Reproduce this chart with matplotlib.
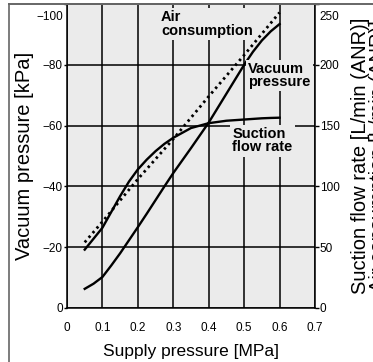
import matplotlib
matplotlib.use("Agg")
import matplotlib.pyplot as plt
from matplotlib.lines import Line2D
from matplotlib.transforms import ScaledTranslation

plt.rcParams["font.family"] = ["Liberation Sans", "DejaVu Sans"]

# supply pressure [MPa]
supply = [0.05, 0.075, 0.1, 0.125, 0.15, 0.175, 0.2, 0.225, 0.25, 0.275, 0.3,
          0.35, 0.4, 0.45, 0.5, 0.525, 0.55, 0.575, 0.6]
# vacuum pressure [kPa]
vacuum = [-6.3, -8, -10.2, -14, -18, -22.3, -26.6, -31, -35.5, -40, -44.4,
          -52.6, -61, -70.5, -80, -84.3, -88, -91, -93.4]
# suction flow rate [L/min (ANR)]
suction_flow = [48, 57, 66, 79, 92, 104, 114, 122, 129, 135, 140,
                148, 152, 154, 155, 155.5, 156, 156.3, 156.5]
# air consumption [L/min (ANR)]
air_supply = [0.05, 0.1, 0.2, 0.3, 0.4, 0.5, 0.6]
air_consumption = [54, 71, 106, 139, 174, 208, 243]

x_ticks = [0, 0.1, 0.2, 0.3, 0.4, 0.5, 0.6, 0.7]
x_labels = ["0", "0.1", "0.2", "0.3", "0.4", "0.5", "0.6", "0.7"]
vac_ticks = [0, -20, -40, -60, -80, -100]
vac_labels = ["0", "\u221220", "\u221240", "\u221260", "\u221280", "\u2212100"]
flow_ticks = [0, 50, 100, 150, 200, 250]
flow_labels = ["0", "50", "100", "150", "200", "250"]

BG = "#ebebeb"
TICK_FONT = ["Liberation Sans Narrow", "Liberation Sans", "DejaVu Sans"]

fig = plt.figure(figsize=(3.73, 3.62), dpi=100)
ax = fig.add_axes([67 / 373, 54 / 362, 248 / 373, 304 / 362])
ax.set_facecolor(BG)

ax.set_xlim(0, 0.7)
ax.set_ylim(0, -100)
ax.set_xticks(x_ticks)
ax.set_xticklabels(x_labels, family=TICK_FONT, fontsize=8.5)
ax.set_yticks(vac_ticks)
ax.set_yticklabels(vac_labels, family=TICK_FONT, fontsize=8.5)
ax.tick_params(axis="x", length=0, pad=10)
ax.tick_params(axis="y", length=2.5, width=1, pad=0.5)
ax.grid(True, color="black", linewidth=1.1)
ax.set_axisbelow(True)
for side in ["left", "bottom", "right"]:
    ax.spines[side].set_linewidth(1.1)
ax.spines["top"].set_color("#555555")
ax.spines["top"].set_linewidth(1.4)

ax.plot(supply, vacuum, color="black", linewidth=1.7, solid_joinstyle="round")

ax.set_xlabel("Supply pressure [MPa]", fontsize=12.5, labelpad=7)
ax.set_ylabel("Vacuum pressure [kPa]", fontsize=14.5)
ax.yaxis.set_label_coords(-0.135, 0.5)

ax2 = ax.twinx()
ax2.set_ylim(0, 250)
ax2.set_yticks(flow_ticks)
ax2.set_yticklabels(flow_labels, family=TICK_FONT, fontsize=8.5)
ax2.tick_params(axis="y", length=3, width=1, pad=0.5)
for s in ax2.spines.values():
    s.set_visible(False)

ax2.plot(supply, suction_flow, color="black", linewidth=1.7, solid_joinstyle="round")
ax2.plot(air_supply, air_consumption, color="black", linewidth=2.0,
         linestyle=(0, (0.9, 1.3)))

ax2.set_ylabel("Suction flow rate [L/min (ANR)]\nAir consumption [L/min (ANR)]",
               fontsize=14.5, linespacing=0.95, labelpad=8)

# the top labels sit a little below their gridline
fig.canvas.draw()
shift = ScaledTranslation(0, -12 / 100, fig.dpi_scale_trans)
top_left = ax.yaxis.get_major_ticks()[-1].label1
top_left.set_transform(top_left.get_transform() + shift)
top_right = ax2.yaxis.get_major_ticks()[-1].label2
top_right.set_transform(top_right.get_transform() + shift)

box = dict(boxstyle="square,pad=0.15", facecolor=BG, edgecolor="none")
ax2.text(0.265, 245, "Air\nconsumption", fontsize=10.5, fontweight="bold",
         ha="left", va="top", linespacing=1.0, bbox=box, zorder=5)
ax2.text(0.512, 202, "Vacuum\npressure", fontsize=10.5, fontweight="bold",
         ha="left", va="top", linespacing=0.9, bbox=box, zorder=5)
ax2.text(0.466, 148.5, "Suction\nflow rate", fontsize=10.5, fontweight="bold",
         ha="left", va="top", linespacing=0.9, bbox=box, zorder=5)

# outer frame
fig.add_artist(Line2D([9 / 373, 9 / 373], [0, 358 / 362], color="#666666", linewidth=1.2))
fig.add_artist(Line2D([9 / 373, 1], [358 / 362, 358 / 362], color="#666666", linewidth=1.4))

fig.savefig("out.png", dpi=100)
